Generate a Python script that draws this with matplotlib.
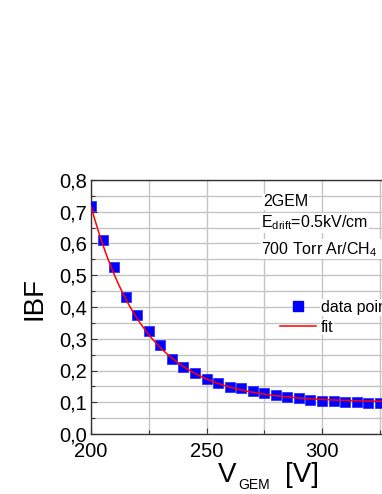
import numpy as np
import matplotlib
matplotlib.use("Agg")
import matplotlib.pyplot as plt
from matplotlib.ticker import MultipleLocator, FuncFormatter
from matplotlib.lines import Line2D

plt.rcParams['font.family'] = ['Liberation Sans', 'DejaVu Sans']
plt.rcParams['mathtext.fontset'] = 'custom'
plt.rcParams['mathtext.rm'] = 'Liberation Sans'
plt.rcParams['mathtext.it'] = 'Liberation Sans'

# data
v_gem = [200, 205, 210, 215, 220, 225, 230, 235, 240, 245, 250, 255, 260, 265,
         270, 275, 280, 285, 290, 295, 300, 305, 310, 315, 320, 325]
ibf = [0.717, 0.611, 0.525, 0.432, 0.375, 0.325, 0.280, 0.237, 0.212, 0.191,
       0.174, 0.162, 0.149, 0.145, 0.134, 0.129, 0.123, 0.118, 0.113, 0.108,
       0.105, 0.104, 0.100, 0.102, 0.098, 0.097]

# exponential decay fit parameters  y = y0 + A*exp(-(V-V0)/t)
fit_y0 = 0.100
fit_A = 0.617
fit_V0 = 200.0
fit_t = 23.5

W, H = 382, 494
fig = plt.figure(figsize=(W / 100, H / 100), dpi=100)

x0_px, x1_px = 91, 91 + 150 * 115.5 / 50
y_top_px, y_bot_px = 180, 434
ax = fig.add_axes([x0_px / W, 1 - y_bot_px / H, (x1_px - x0_px) / W, (y_bot_px - y_top_px) / H])
ax.set_xlim(200, 350)
ax.set_ylim(0, 0.8)

ax.xaxis.set_major_locator(MultipleLocator(50))
ax.xaxis.set_minor_locator(MultipleLocator(25))
ax.xaxis.set_major_formatter(FuncFormatter(lambda v, p: "" if v > 330 else f"{v:.0f}"))
ax.yaxis.set_major_locator(MultipleLocator(0.1))
ax.yaxis.set_minor_locator(MultipleLocator(0.05))
ax.yaxis.set_major_formatter(FuncFormatter(lambda v, p: f"{v:.1f}".replace('.', ',')))
ax.grid(True, which='both', color='#c4c4c4', linewidth=1.0)
ax.set_axisbelow(True)
ax.tick_params(which='both', direction='in', labelsize=14.5, color='#333333', width=0.8)
ax.tick_params(which='major', length=4)
ax.tick_params(which='minor', length=3)
ax.tick_params(axis='x', pad=6)
ax.tick_params(axis='y', pad=3)
for s in ax.spines.values():
    s.set_color('#333333')
    s.set_linewidth(1.0)

vfit = np.linspace(200, 350, 400)
yfit = fit_y0 + fit_A * np.exp(-(vfit - fit_V0) / fit_t)

ax.plot(v_gem, ibf, 's', color='#0000ff', markersize=6.8, markeredgewidth=0.6,
        markeredgecolor='#3333ff', zorder=3)
ax.plot(vfit, yfit, '-', color='#ff0000', linewidth=1.1, zorder=4)

# annotations
bb = dict(facecolor='white', edgecolor='none', pad=0.5)
def px(x, y):
    return x / W, 1 - y / H
fig.text(*px(263, 202), "2GEM", fontsize=11.5, va='center', ha='left', bbox=bb)
fig.text(*px(261, 223), r"E$_{\mathregular{drift}}$=0.5kV/cm", fontsize=11.5, va='center', ha='left', bbox=bb)
fig.text(*px(261, 249), r"700 Torr Ar/CH$_{\mathregular{4}}$ (90/10)", fontsize=11.5, va='center', ha='left', bbox=bb)

handles = [Line2D([], [], marker='s', linestyle='none', color='#0000ff', markersize=6.8),
           Line2D([], [], color='#ff0000', linewidth=1.1)]
leg = ax.legend(handles, ['data points', 'fit'], loc='upper left',
                bbox_to_anchor=px(280, 300), bbox_transform=fig.transFigure,
                frameon=False, fontsize=11.5, handlelength=2.26, handletextpad=0.3,
                labelspacing=0.3, borderpad=0, borderaxespad=0, numpoints=1)
for t in leg.get_texts():
    t.set_bbox(dict(facecolor='white', edgecolor='none', pad=0.5))

# axis labels
fig.text(*px(34, 299), "IBF", fontsize=20, rotation=90, va='center', ha='center')
fig.text(*px(218, 482), "V", fontsize=20, va='baseline', ha='left')
fig.text(*px(238, 489), "GEM", fontsize=10, va='baseline', ha='left')
fig.text(*px(285, 482), "[V]", fontsize=20, va='baseline', ha='left')

fig.savefig("out.png", dpi=100)
